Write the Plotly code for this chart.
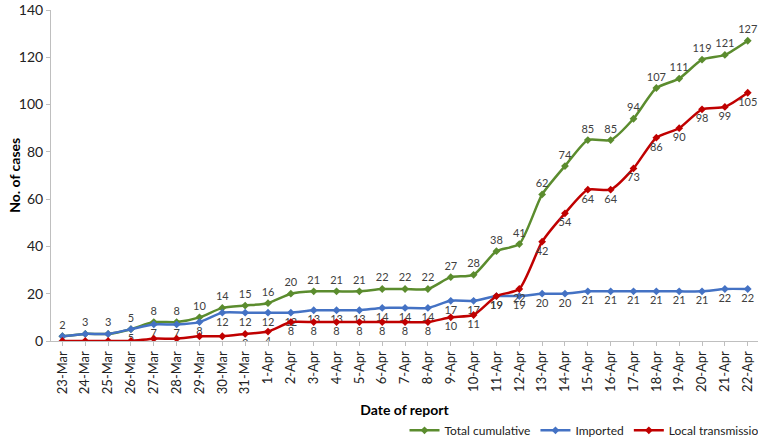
import plotly.graph_objects as go

dates = ["23-Mar", "24-Mar", "25-Mar", "26-Mar", "27-Mar", "28-Mar", "29-Mar", "30-Mar", "31-Mar",
         "1-Apr", "2-Apr", "3-Apr", "4-Apr", "5-Apr", "6-Apr", "7-Apr", "8-Apr", "9-Apr", "10-Apr",
         "11-Apr", "12-Apr", "13-Apr", "14-Apr", "15-Apr", "16-Apr", "17-Apr", "18-Apr", "19-Apr",
         "20-Apr", "21-Apr", "22-Apr"]
total = [2, 3, 3, 5, 8, 8, 10, 14, 15, 16, 20, 21, 21, 21, 22, 22, 22, 27, 28, 38, 41, 62, 74,
         85, 85, 94, 107, 111, 119, 121, 127]
imported = [2, 3, 3, 5, 7, 7, 8, 12, 12, 12, 12, 13, 13, 13, 14, 14, 14, 17, 17, 19, 19, 20, 20,
            21, 21, 21, 21, 21, 21, 22, 22]
local = [0, 0, 0, 0, 1, 1, 2, 2, 3, 4, 8, 8, 8, 8, 8, 8, 8, 10, 11, 19, 22, 42, 54, 64, 64, 73,
         86, 90, 98, 99, 105]

FONT = "Lato"
LBL = dict(family=FONT, size=11, color="#404040")

fig = go.Figure()
series = [
    ("Total cumulative", total, "#5B8C2E", "top center"),
    ("Imported", imported, "#4472C4", "bottom center"),
    ("Local transmission", local, "#C00000", "bottom center"),
]
for name, vals, col, pos in series:
    fig.add_trace(go.Scatter(
        x=dates, y=vals, name=name, mode="lines+markers+text",
        line=dict(color=col, width=2.5, shape="spline", smoothing=0.6),
        marker=dict(symbol="diamond", size=6, color=col),
        text=[str(v) for v in vals], textposition=pos, textfont=LBL,
    ))

fig.update_layout(
    width=758, height=443,
    margin=dict(l=51, r=0, t=10, b=102, autoexpand=False),
    paper_bgcolor="white", plot_bgcolor="white",
    font=dict(family=FONT, size=12, color="#222222"),
    showlegend=True,
    legend=dict(orientation="h", x=0.5, xanchor="left", y=-0.27, yanchor="middle",
                font=dict(family=FONT, size=12, color="#222222"), itemwidth=30,
                tracegroupgap=0, traceorder="normal", bgcolor="rgba(0,0,0,0)"),
    xaxis=dict(
        type="category", range=[-0.5, 30.45], tickangle=-90,
        showline=True, linecolor="#BFBFBF", linewidth=1,
        ticks="outside", ticklen=4, tickcolor="#BFBFBF",
        showgrid=False, zeroline=False, automargin=False,
        tickfont=dict(family=FONT, size=13, color="#222222"),
        title=dict(text="<b>Date of report</b>", font=dict(family=FONT, size=14, color="#000000"),
                   standoff=12),
    ),
    yaxis=dict(
        range=[0, 140], dtick=20,
        showline=True, linecolor="#BFBFBF", linewidth=1,
        ticks="outside", ticklen=4, tickcolor="#BFBFBF",
        showgrid=False, zeroline=False, automargin=False,
        tickfont=dict(family=FONT, size=14, color="#222222"),
    ),
    annotations=[dict(
        text="<b>No. of cases</b>", textangle=-90, showarrow=False,
        xref="paper", yref="paper", x=-0.0505, y=0.5, xanchor="center", yanchor="middle",
        xshift=-1, font=dict(family=FONT, size=14, color="#000000"),
    )],
)

fig.write_html(
    "out.html",
    config={"displayModeBar": False},
    post_script="document.body.style.margin='0';document.body.style.overflow='hidden';",
)
